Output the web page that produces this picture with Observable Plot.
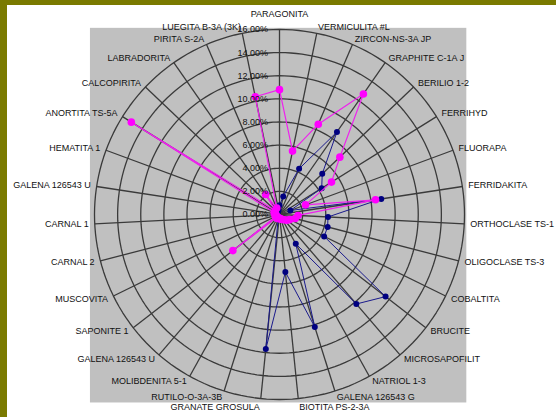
<!DOCTYPE html>
<html><head><meta charset="utf-8">
<script src="https://cdn.jsdelivr.net/npm/d3@7"></script>
<script src="https://cdn.jsdelivr.net/npm/@observablehq/plot@0.6"></script>
<style>
body{margin:0;background:#fff;}
#wrap{position:relative;width:556px;height:417px;overflow:hidden;background:#fff;}
.bar{position:absolute;background:#7a7a00;}
</style></head><body>
<div id="wrap"></div>
<script>
const categories = [
  "PARAGONITA","VERMICULITA #L","ZIRCON-NS-3A JP","GRAPHITE C-1A J","BERILIO 1-2",
  "FERRIHYD","FLUORAPA","FERRIDAKITA","ORTHOCLASE TS-1","OLIGOCLASE TS-3",
  "COBALTITA","BRUCITE","MICROSAPOFILIT","NATRIOL 1-3","GALENA 126543 G",
  "BIOTITA PS-2-3A","GRANATE GROSULA","RUTILO-O-3A-3B","MOLIBDENITA 5-1","GALENA 126543 U",
  "SAPONITE 1","MUSCOVITA","CARNAL 2","CARNAL 1","GALENA 126543 U",
  "HEMATITA 1","ANORTITA TS-5A","CALCOPIRITA","LABRADORITA","PIRITA S-2A",
  "LUEGITA B-3A (3K)"
];
const seriesMagenta = [
  10.8, 5.6, 8.5, 12.7, 7.2,
  5.3, 2.4, 8.4, 1.6, 1.4,
  1.0, 0.8, 0.6, 0.5, 0.4,
  0.4, 0.3, 0.3, 0.4, 0.3,
  5.1, 0.3, 0.4, 0.3, 0.4,
  0.5, 15.1, 0.5, 2.1, 0.6,
  10.4
];
const seriesNavy = [
  0.8, 1.6, 4.3, 8.7, 5.1,
  4.3, 1.0, 8.9, 4.2, 4.3,
  4.3, 11.6, 10.2, 2.9, 10.2,
  5.0, 11.7, 0.4, 0.3, 0.3,
  0.3, 0.2, 0.2, 0.2, 0.2,
  0.3, 0.3, 0.3, 0.3, 0.3,
  0.4
];
const tickValues = [0, 2, 4, 6, 8, 10, 12, 14, 16];
const tickLabels = ["0.00%","2.00%","4.00%","6.00%","8.00%","10.00%","12.00%","14.00%","16.00%"];

const N = categories.length;
const maxV = tickValues[tickValues.length - 1];
const W = 556, H = 417, cx = 279, cy = 214, R = 185;
const k = R / maxV;
const xDomain = [-cx / k, (W - cx) / k];
const yDomain = [-(H - cy) / k, cy / k];
const ang = i => i * 2 * Math.PI / N;
const px = (i, v) => v * Math.sin(ang(i));
const py = (i, v) => v * Math.cos(ang(i));

const rings = [];
tickValues.filter(t => t > 0).forEach(t => {
  for (let a = 0; a <= 360; a += 2) {
    const r = a * Math.PI / 180;
    rings.push({t, x: t * Math.sin(r), y: t * Math.cos(r)});
  }
});
const spokes = categories.map((c, i) => ({x1: 0, y1: 0, x2: px(i, maxV), y2: py(i, maxV)}));

function poly(vals, name) {
  return vals.map((v, i) => ({name, i, v, x: px(i, v), y: py(i, v)}));
}
const mag = poly(seriesMagenta, "A");
const nav = poly(seriesNavy, "B");
const magClosed = mag.concat([mag[0]]);
const navClosed = nav.concat([nav[0]]);

const labR = 191 / k, topR = 200 / k, botR = 194 / k;
const labels = categories.map((c, i) => {
  const s = Math.sin(ang(i)), co = Math.cos(ang(i));
  const r = Math.abs(s) < 0.05 ? topR : (Math.abs(s) < 0.25 && co < 0 ? botR : labR);
  return {c, i, s, x: px(i, r), y: py(i, r)};
});
const ticks = tickValues.map((t, j) => ({t, label: tickLabels[j]}));

const pad = 0.3;
const chart = Plot.plot({
  width: W, height: H, margin: 0,
  x: {domain: xDomain, axis: null},
  y: {domain: yDomain, axis: null},
  style: {background: "transparent", fontFamily: "Liberation Sans, Arial, sans-serif"},
  marks: [
    Plot.rect([0], {x1: -(maxV + pad + 0.05), x2: maxV + pad - 0.1, y1: -(maxV + pad), y2: maxV + pad - 0.2, fill: "#c0c0c0"}),
    Plot.line(rings, {x: "x", y: "y", z: "t", stroke: "#3a3a3a", strokeWidth: 1.3}),
    Plot.link(spokes, {x1: "x1", y1: "y1", x2: "x2", y2: "y2", stroke: "#3a3a3a", strokeWidth: 1.3}),
    Plot.line(navClosed, {x: "x", y: "y", stroke: "#1a1a8c", strokeWidth: 1}),
    Plot.dot(nav, {x: "x", y: "y", r: 3, fill: "#000080", stroke: "none"}),
    Plot.line(magClosed, {x: "x", y: "y", stroke: "#ee22ee", strokeWidth: 1.2}),
    Plot.dot(mag, {x: "x", y: "y", r: 3.8, fill: "#ff00ff", stroke: "none"}),
    Plot.text(ticks, {x: -1, y: "t", text: "label", textAnchor: "end", fontSize: 9, fill: "#111"}),
    Plot.text(labels.filter(d => Math.abs(d.s) < 0.05), {x: "x", y: "y", text: "c", textAnchor: "middle", fontSize: 9, fill: "#111"}),
    Plot.text(labels.filter(d => d.s >= 0.05), {x: "x", y: "y", text: "c", textAnchor: "start", fontSize: 9, fill: "#111"}),
    Plot.text(labels.filter(d => d.s <= -0.05), {x: "x", y: "y", text: "c", textAnchor: "end", fontSize: 9, fill: "#111"})
  ]
});
const wrap = document.getElementById("wrap");
wrap.appendChild(chart);
chart.style.position = "absolute";
chart.style.left = "0"; chart.style.top = "0";
const barTop = document.createElement("div");
barTop.className = "bar"; barTop.style.cssText = "left:0;top:0;width:556px;height:5px;";
const barLeft = document.createElement("div");
barLeft.className = "bar"; barLeft.style.cssText = "left:0;top:0;width:7px;height:417px;";
wrap.appendChild(barTop); wrap.appendChild(barLeft);
</script>
</body></html>
